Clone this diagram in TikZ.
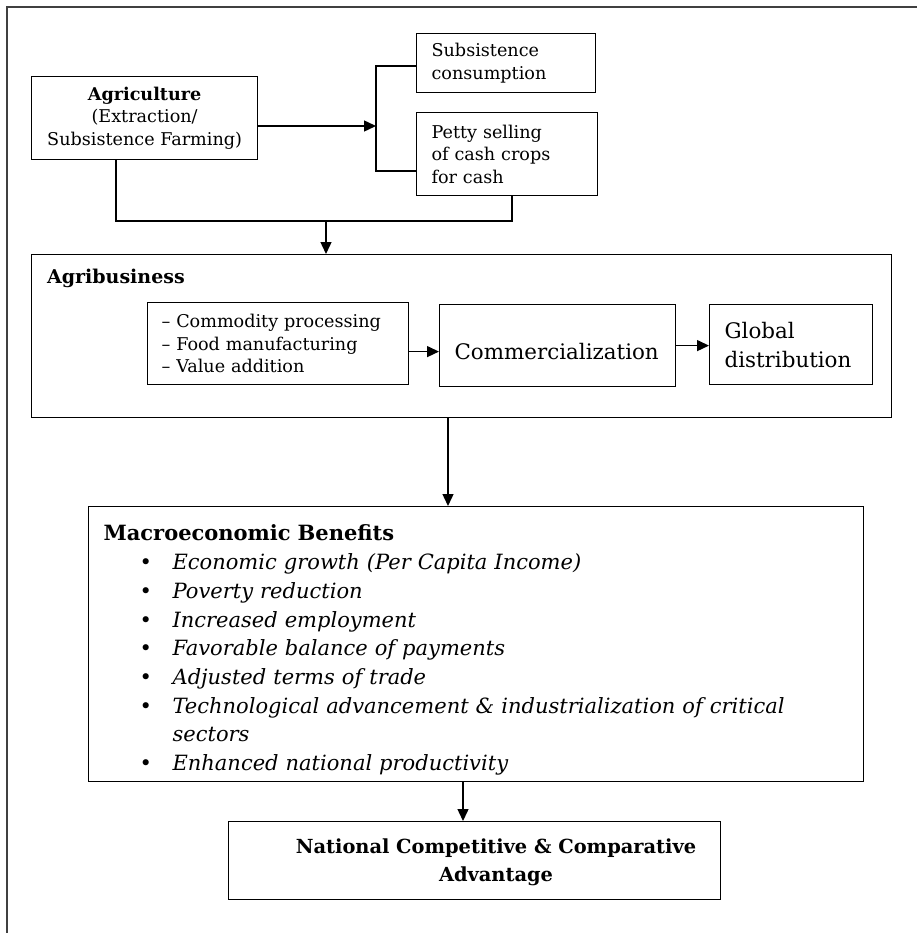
\documentclass[tikz,border=0pt]{standalone}
\usepackage{fontspec}
\setmainfont{DejaVu Serif}
\usetikzlibrary{arrows.meta,positioning}

\newcommand\szbox{\fontsize{17.6}{22.5}\selectfont}
\newcommand\szbig{\fontsize{21}{28.7}\selectfont}
\newcommand\sztitle{\fontsize{19}{23}\selectfont}
\newcommand\szcomm{\fontsize{21.4}{29}\selectfont}
\newcommand\sznatl{\fontsize{19.4}{28}\selectfont}
\newcommand\benefit[1]{\hspace*{36pt}\makebox[33pt][l]{\textbullet}\textit{#1}}

\begin{document}
\begin{tikzpicture}[x=1pt,y=-1pt,>={Triangle[length=12pt,width=11pt]},
    box/.style={draw,line width=1.2pt,inner sep=0pt,anchor=north west},
    txtbox/.style={box,align=left,inner xsep=15pt,font=\szbox},
    link/.style={line width=1.3pt},
    arr/.style={line width=1.4pt,->}]

  \useasboundingbox (0,0) rectangle (916,933);
  % outer frame, cut by the page edge
  \draw[line width=1.8pt,black!75] (7,950) -- (7,7) -- (930,7);

  % top row
  \node[box,font=\szbox,align=center,minimum width=226pt,minimum height=83pt] (agri) at (31,76)
    {\textbf{Agriculture}\\(Extraction/\\Subsistence Farming)};
  \node[txtbox,text width=149pt,minimum height=59pt] (subs) at (416,33) {Subsistence\\consumption};
  \node[txtbox,text width=151pt,minimum height=83pt] (petty) at (416,112) {Petty selling\\of cash crops\\for cash};

  \coordinate (fork) at (376,126);
  \coordinate (brtop) at (376,66);
  \coordinate (brbot) at (376,171);
  \coordinate (jl) at (116,221);
  \coordinate (jr) at (512,221);
  \coordinate (join) at (326,221);

  \draw[arr] (agri.east |- fork) -- (fork);
  \draw[link] (subs.west |- brtop) -- (brtop) -- (brbot) -- (petty.west |- brbot);
  \draw[link] (agri.south -| jl) -- (jl) -- (jr) -- (petty.south -| jr);

  % agribusiness
  \node[box,minimum width=860pt,minimum height=163pt] (agrib) at (31,254) {};
  \node[anchor=base west,inner sep=0pt,font=\bfseries\sztitle] (agribt) at (47,283) {Agribusiness};
  \node[txtbox,inner xsep=14pt,text width=233pt,minimum height=82pt] (list) at (147,302)
    {-- Commodity processing\\-- Food manufacturing\\-- Value addition};
  \node[txtbox,font=\szcomm,text width=206pt,minimum height=82pt] (comm) at (439,304)
    {\rule{0pt}{28pt}Commercialization};
  \node[txtbox,font=\szcomm,text width=133pt,minimum height=80pt] (glob) at (709,304) {Global\\distribution};

  \draw[arr] (join) -- (agrib.north -| join);
  \draw[arr] ([yshift=-8pt]list.east) -- ([yshift=-8pt]list.east -| comm.west);
  \draw[arr] (comm.east) -- (glob.west |- comm.east);

  % benefits
  \node[txtbox,font=\szbig,text width=745pt,minimum height=275pt] (macro) at (88,506)
    {\rule{0pt}{28pt}\textbf{Macroeconomic Benefits}\\
     \benefit{Economic growth (Per Capita Income)}\\
     \benefit{Poverty reduction}\\
     \benefit{Increased employment}\\
     \benefit{Favorable balance of payments}\\
     \benefit{Adjusted terms of trade}\\
     \benefit{Technological advancement \& industrialization of critical}\\
     \hspace*{69pt}\textit{sectors}\\
     \benefit{Enhanced national productivity}};
  \coordinate (drop) at (448,0);
  \draw[arr] (agrib.south -| drop) -- (macro.north -| drop);

  \node[box,minimum width=492pt,minimum height=78pt] (natl) at (228,821) {};
  \node[font=\bfseries\sznatl,align=center] (natltxt) at (496,862)
    {National Competitive \& Comparative\\Advantage};
  \coordinate (rise) at (463,0);
  \draw[arr] (macro.south -| rise) -- (natl.north -| rise);

\end{tikzpicture}
\end{document}
